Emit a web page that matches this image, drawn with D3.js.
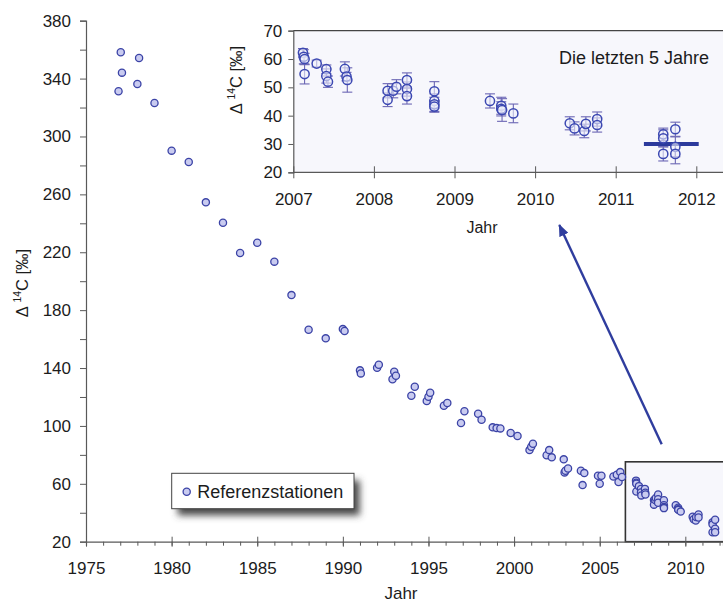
<!DOCTYPE html>
<html>
<head>
<meta charset="utf-8">
<script src="https://cdn.jsdelivr.net/npm/d3@7"></script>
<style>
  html, body { margin: 0; padding: 0; background: #fff; }
  svg { display: block; font-family: "Liberation Sans", Arial, sans-serif; }
</style>
</head>
<body>
<svg id="chart" width="723" height="605"></svg>
<script>
// Long-term record (reference stations), year and Δ14C in ‰
const mainYears = [
  1976.9, 1977.03, 1977.1, 1978.0, 1978.1, 1979.0, 1980.0, 1981.0, 1982.0, 1983.0,
  1984.0, 1985.0, 1986.0, 1987.0, 1988.0, 1989.0, 1990.0, 1990.1, 1991.0, 1991.05,
  1992.0, 1992.1, 1992.9, 1993.0, 1993.1, 1994.0, 1994.2, 1994.9, 1995.0, 1995.1,
  1995.9, 1996.1, 1996.9, 1997.1, 1997.9, 1998.1, 1998.75, 1998.98, 1999.2, 1999.8,
  2000.2, 2000.9, 2001.0, 2001.1, 2001.9, 2002.05, 2002.2, 2002.9, 2002.95, 2003.0,
  2003.15, 2003.9, 2004.0, 2004.1, 2004.9, 2005.0, 2005.1, 2005.8, 2006.0, 2006.1,
  2006.2, 2006.3
];
const mainValues = [
  331.2, 358.2, 344.1, 336.3, 354.2, 323.1, 290.2, 282.4, 254.5, 240.4,
  219.5, 226.6, 213.5, 190.4, 166.5, 160.5, 166.9, 165.6, 138.4, 136.3,
  140.2, 142.3, 132.2, 137.4, 134.7, 120.8, 127.1, 117.2, 120.2, 122.9,
  113.9, 115.8, 102.0, 110.1, 108.4, 104.3, 99.0, 98.5, 98.3, 95.1,
  93.0, 83.3, 85.6, 87.7, 79.7, 83.3, 78.3, 76.9, 67.9, 69.0,
  70.6, 69.0, 59.1, 67.4, 65.6, 60.0, 65.6, 65.1, 66.3, 61.2,
  68.1, 64.7
];

// Last five years with uncertainties (‰)
const recentYears = [
  2007.12, 2007.13, 2007.14, 2007.14, 2007.29, 2007.41, 2007.41, 2007.43,
  2007.64, 2007.66, 2007.67, 2008.17, 2008.17, 2008.24, 2008.28, 2008.41,
  2008.41, 2008.41, 2008.75, 2008.75, 2008.75, 2008.75, 2009.44, 2009.58,
  2009.58, 2009.59, 2009.73, 2010.43, 2010.49, 2010.61, 2010.63, 2010.77,
  2010.77, 2011.59, 2011.59, 2011.59, 2011.74, 2011.74, 2011.74
];
const recentValues = [
  62.2, 60.8, 60.0, 54.7, 58.4, 56.4, 54.0, 52.0,
  56.5, 53.8, 52.6, 48.8, 45.6, 48.8, 50.2, 52.6,
  49.4, 46.9, 48.6, 45.2, 44.0, 43.2, 45.2, 43.5,
  42.4, 42.0, 40.8, 37.3, 35.5, 34.6, 37.1, 38.8,
  36.7, 33.4, 32.0, 26.5, 35.2, 29.0, 26.5
];
const recentErrors = [
  1.5, 2.5, 2.0, 3.5, 1.2, 1.5, 2.5, 2.0,
  2.5, 1.5, 4.3, 2.5, 2.4, 2.5, 2.5, 2.5,
  2.5, 2.8, 3.4, 2.5, 2.5, 2.0, 2.5, 3.0,
  2.5, 4.0, 3.3, 2.3, 2.3, 2.4, 2.5, 2.5,
  2.5, 2.2, 3.0, 2.5, 2.5, 3.5, 3.5
];

// Reference level marked in the last-five-years panel
const levelStart = 2011.35, levelEnd = 2012.03, levelValue = 30;

// Tick labels
const mainXTicks = [1975, 1980, 1985, 1990, 1995, 2000, 2005, 2010];
const mainYTicks = [20, 60, 100, 140, 180, 220, 260, 300, 340, 380];
const insetXTicks = [2007, 2008, 2009, 2010, 2011, 2012];
const insetYTicks = [20, 30, 40, 50, 60, 70];

const legendLabel = "Referenzstationen";
const insetTitle = "Die letzten 5 Jahre";
const xTitle = "Jahr";

const svg = d3.select("#chart");
const axisColor = "#595959";
const textColor = "#1c1c1c";
const markFill = "#c9cbf0";
const markStroke = "#3b43a6";

const defs = svg.append("defs");
defs.append("filter").attr("id", "shadowBlur")
  .attr("x", "-20%").attr("y", "-50%").attr("width", "140%").attr("height", "200%")
  .append("feGaussianBlur").attr("stdDeviation", 3.5);
defs.append("marker").attr("id", "arrowHead")
  .attr("viewBox", "0 0 12 10").attr("refX", 11).attr("refY", 5)
  .attr("markerWidth", 12).attr("markerHeight", 10)
  .attr("markerUnits", "userSpaceOnUse").attr("orient", "auto")
  .append("path").attr("d", "M0,0 L12,5 L0,10 Z").attr("fill", "#2f3d9e");

// ---------- Main chart ----------
const x = d3.scaleLinear().domain([1975, 2012.2]).range([86, 723]);
const y = d3.scaleLinear().domain([20, 380]).range([541.7, 20.7]);

// zoom frame for the recent period
const frame = { x0: 2006.5, x1: 2013, y0: 20, y1: 75.2 };
svg.append("rect")
  .attr("x", x(frame.x0)).attr("y", y(frame.y1))
  .attr("width", x(frame.x1) - x(frame.x0)).attr("height", y(frame.y0) - y(frame.y1))
  .attr("fill", "#f7f7fc").attr("stroke", "#333").attr("stroke-width", 1.6);

// y axis
const yAxis = svg.append("g").attr("transform", `translate(${x(1975)},0)`)
  .call(d3.axisLeft(y).tickValues(d3.range(20, 381, 20)).tickSize(6).tickPadding(9)
    .tickFormat(d => mainYTicks.includes(d) ? d : ""));
yAxis.select(".domain").attr("stroke", axisColor).attr("stroke-width", 1.2);
yAxis.selectAll(".tick line").attr("stroke", axisColor);
yAxis.selectAll(".tick text").attr("fill", textColor).style("font-size", "17px");

// x axis: minor ticks every year, major ticks cross the axis
const xMinor = svg.append("g").attr("transform", `translate(0,${y(20)})`)
  .call(d3.axisBottom(x).tickValues(d3.range(1975, 2013, 1)).tickSize(4).tickFormat(""));
xMinor.select(".domain").attr("stroke", axisColor).attr("stroke-width", 1.2);
xMinor.selectAll(".tick line").attr("stroke", axisColor);
const xMajor = svg.append("g").attr("transform", `translate(0,${y(20)})`)
  .call(d3.axisBottom(x).tickValues(mainXTicks).tickSize(5).tickFormat(d3.format("d")));
xMajor.select(".domain").remove();
xMajor.selectAll(".tick line").attr("y1", -5).attr("stroke", axisColor);
xMajor.selectAll(".tick text").attr("y", 32.5).attr("dy", 0)
  .attr("fill", textColor).style("font-size", "17px");

// axis titles
svg.append("text").attr("x", 401).attr("y", 599).attr("text-anchor", "middle")
  .attr("fill", textColor).style("font-size", "17px").text(xTitle);

function deltaLabel(g, fs) {
  const t = g.append("text").attr("text-anchor", "middle").attr("fill", textColor)
    .style("font-size", fs + "px");
  t.append("tspan").text("Δ ");
  t.append("tspan").attr("dy", -fs * 0.4).style("font-size", (fs * 0.62) + "px").text("14");
  t.append("tspan").attr("dy", fs * 0.4).text("C [‰]");
  return t;
}
deltaLabel(svg.append("g").attr("transform", "translate(28,283) rotate(-90)"), 16.5);

// data points
const mainPoints = mainYears.map((yr, i) => ({ yr, v: mainValues[i] }))
  .concat(recentYears.map((yr, i) => ({ yr, v: recentValues[i] })));
svg.append("g").selectAll("circle").data(mainPoints).join("circle")
  .attr("cx", d => x(d.yr)).attr("cy", d => y(d.v)).attr("r", 3.6)
  .attr("fill", markFill).attr("stroke", markStroke).attr("stroke-width", 1.3);

// legend with drop shadow
const lg = svg.append("g").attr("transform", "translate(171.7,473.3)");
lg.append("rect").attr("x", 6).attr("y", 7).attr("width", 182).attr("height", 35)
  .attr("fill", "#4a4a4a").attr("filter", "url(#shadowBlur)");
lg.append("rect").attr("width", 182.3).attr("height", 35.4)
  .attr("fill", "#fff").attr("stroke", "#444").attr("stroke-width", 1);
lg.append("circle").attr("cx", 15).attr("cy", 18.5).attr("r", 3.6)
  .attr("fill", markFill).attr("stroke", markStroke).attr("stroke-width", 1.3);
lg.append("text").attr("x", 25.6).attr("y", 24.5).attr("fill", textColor)
  .style("font-size", "18px").text(legendLabel);

// ---------- Inset: the last five years ----------
const ix = d3.scaleLinear().domain([2007, 2012]).range([293.3, 696.3]);
const iy = d3.scaleLinear().domain([20, 70]).range([172.3, 30.7]);
const insetRight = 723;

svg.append("rect").attr("x", ix(2007)).attr("y", iy(70))
  .attr("width", insetRight - ix(2007)).attr("height", iy(20) - iy(70))
  .attr("fill", "#f7f7fc");
svg.append("line").attr("x1", ix(2007)).attr("x2", insetRight)
  .attr("y1", iy(70)).attr("y2", iy(70)).attr("stroke", "#444").attr("stroke-width", 1.2);

const iyAxis = svg.append("g").attr("transform", `translate(${ix(2007)},0)`)
  .call(d3.axisLeft(iy).tickValues(insetYTicks).tickSize(5).tickPadding(6));
iyAxis.select(".domain").attr("stroke", axisColor).attr("stroke-width", 1.2);
iyAxis.selectAll(".tick line").attr("stroke", axisColor);
iyAxis.selectAll(".tick text").attr("fill", textColor).style("font-size", "17px");

const ixAxis = svg.append("g").attr("transform", `translate(0,${iy(20)})`)
  .call(d3.axisBottom(ix).tickValues(insetXTicks).tickSize(6).tickFormat(d3.format("d")));
ixAxis.select(".domain").remove();
ixAxis.append("line").attr("x1", ix(2007)).attr("x2", insetRight)
  .attr("stroke", axisColor).attr("stroke-width", 1.2);
ixAxis.selectAll(".tick line").attr("y1", -6).attr("stroke", axisColor);
ixAxis.selectAll(".tick text").attr("y", 32.7).attr("dy", 0)
  .attr("fill", textColor).style("font-size", "17px");

svg.append("text").attr("x", 482).attr("y", 232.5).attr("text-anchor", "middle")
  .attr("fill", textColor).style("font-size", "16px").text(xTitle);
deltaLabel(svg.append("g").attr("transform", "translate(242,80) rotate(-90)"), 16.5);
svg.append("text").attr("x", 559).attr("y", 63.5).attr("fill", textColor)
  .style("font-size", "18px").text(insetTitle);

const recent = recentYears.map((yr, i) => ({ yr, v: recentValues[i], e: recentErrors[i] }));
const eb = svg.append("g").attr("stroke", "#6b66b4").attr("stroke-width", 1.1);
recent.forEach(d => {
  eb.append("line").attr("x1", ix(d.yr)).attr("x2", ix(d.yr))
    .attr("y1", iy(d.v - d.e)).attr("y2", iy(d.v + d.e));
  [d.v - d.e, d.v + d.e].forEach(v => eb.append("line")
    .attr("x1", ix(d.yr) - 5).attr("x2", ix(d.yr) + 5)
    .attr("y1", iy(v)).attr("y2", iy(v)));
});

svg.append("line").attr("x1", ix(levelStart)).attr("x2", ix(levelEnd))
  .attr("y1", iy(levelValue)).attr("y2", iy(levelValue))
  .attr("stroke", "#2c3a9c").attr("stroke-width", 4.2);

svg.append("g").selectAll("circle").data(recent).join("circle")
  .attr("cx", d => ix(d.yr)).attr("cy", d => iy(d.v)).attr("r", 4.6)
  .attr("fill", "#eef0fb").attr("fill-opacity", 0.6)
  .attr("stroke", "#3c48b2").attr("stroke-width", 1.5);

// arrow pointing from the zoom frame to the inset
svg.append("line").attr("x1", 661.7).attr("y1", 444.3).attr("x2", 559.3).attr("y2", 225)
  .attr("stroke", "#2f3d9e").attr("stroke-width", 2.4).attr("marker-end", "url(#arrowHead)");
</script>
</body>
</html>
